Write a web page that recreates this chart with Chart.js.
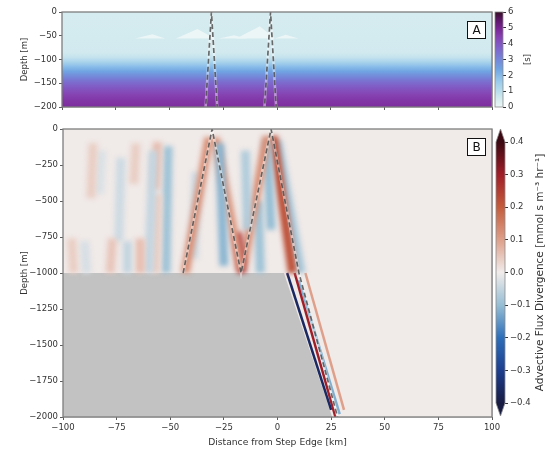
<!DOCTYPE html>
<html>
<head>
<meta charset="utf-8">
<script src="https://cdn.jsdelivr.net/npm/chart.js@4.4.1/dist/chart.umd.min.js"></script>
<style>
  html, body { margin: 0; padding: 0; background: #fff; }
  #fig { position: relative; width: 547px; height: 450px; }
  #fig canvas { position: absolute; left: 0; top: 0; }
</style>
</head>
<body>
<div id="fig">
  <canvas id="panelA" width="547" height="450"></canvas>
  <canvas id="panelB" width="547" height="450"></canvas>
  <canvas id="cbarA" width="547" height="450"></canvas>
  <canvas id="cbarB" width="547" height="450"></canvas>
</div>
<script>
// ---- panel A: layer profile (depth in m, value on the 0-6 scale) ----
const profileDepth = [0, -85, -95, -105, -115, -125, -135, -145, -155, -165, -175, -185, -200];
const profileValue = [0.5, 0.55, 0.8, 1.3, 1.9, 2.4, 2.9, 3.4, 3.8, 4.1, 4.4, 4.6, 4.8];

// pale lenses near 50 m
const lensStart = [-66, -47, -27, -19, -1];
const lensPeak = [-58, -37, -20, -8, 4];
const lensEnd = [-52, -29, -14, -1, 10];
const lensTop = [-47, -36, -49, -30, -48];
const lensBase = -56;

// ---- ray path (km, m) ----
const beamX = [-44, -30.5, -17, -3, 10, 28];
const beamDepth = [-1000, 0, -1000, 0, -1000, -2000];

// ---- step topography ----
const shelfX = [-100, 3, 25.5];
const shelfDepth = [-1000, -1000, -2000];

// ---- panel B: divergence bands (top point, bottom point, value) ----
const stripeX0 = [-96, -90, -86, -82, -77, -73, -70, -66, -64, -58, -56, -56, -51, -32, -38, -27, -29, -19, -15, -5, -9, -5, -2, 0, 4.5, 8, 10, 13];
const stripeD0 = [-760, -780, -100, -150, -760, -200, -780, -100, -760, -150, -90, -450, -120, -60, -300, -100, -60, -720, -150, -50, -500, -80, -50, -80, -1000, -1000, -1050, -1000];
const stripeX1 = [-95, -89, -87, -83, -78, -74, -70, -67, -64, -60, -57, -57, -52, -43, -39, -25, -17, -16.5, -14, -16, -8, -3, 7, 11, 25, 27, 29, 31];
const stripeD1 = [-1000, -1000, -480, -450, -1000, -780, -1000, -380, -1000, -1000, -420, -1000, -1000, -1000, -900, -950, -980, -1000, -700, -950, -1000, -700, -1000, -1000, -1950, -2000, -1980, -1950];
const stripeValue = [0.04, -0.03, 0.04, -0.025, 0.05, -0.04, -0.05, 0.04, 0.06, -0.05, 0.06, 0.04, -0.09, 0.12, -0.04, -0.11, 0.11, 0.28, -0.07, 0.12, -0.09, -0.1, 0.22, -0.08, -0.36, 0.3, -0.12, 0.1];
const backgroundValue = 0.003;

// ---- colour scales ----
const xTicks = { min: -100, max: 100, step: 25 };
const cbarATicks = { min: 0, max: 6, step: 1 };
const cbarBTicks = { min: -0.4, max: 0.4, step: 0.1 };

const denseStops = [
  [0.00, [236, 246, 246]], [0.08, [214, 236, 239]], [0.17, [185, 221, 236]],
  [0.28, [150, 200, 236]], [0.40, [112, 164, 226]], [0.52, [118, 128, 214]],
  [0.63, [128, 96, 200]], [0.74, [134, 64, 176]], [0.82, [122, 38, 150]],
  [0.92, [90, 22, 100]], [1.00, [54, 14, 36]]
];
const balanceStops = [
  [0.00, [24, 28, 67]], [0.12, [28, 60, 140]], [0.25, [45, 110, 185]],
  [0.375, [150, 190, 212]], [0.5, [241, 236, 235]], [0.625, [222, 160, 138]],
  [0.75, [196, 92, 60]], [0.875, [160, 30, 40]], [1.00, [60, 9, 18]]
];

function cmap(stops, t) {
  t = Math.max(0, Math.min(1, t));
  for (let i = 1; i < stops.length; i++) {
    if (t <= stops[i][0]) {
      const [t0, c0] = stops[i - 1];
      const [t1, c1] = stops[i];
      const f = (t - t0) / (t1 - t0);
      return 'rgb(' + c0.map((c, k) => Math.round(c + (c1[k] - c) * f)).join(',') + ')';
    }
  }
  return 'rgb(' + stops[stops.length - 1][1].join(',') + ')';
}
const colorScales = {
  dense: v => cmap(denseStops, (v - cbarATicks.min) / (cbarATicks.max - cbarATicks.min)),
  balance: v => cmap(balanceStops, (v - cbarBTicks.min) / (cbarBTicks.max - cbarBTicks.min))
};

function minus(v) {
  return String(v).replace('-', '\u2212');
}

Chart.defaults.font.family = "'DejaVu Sans', sans-serif";
Chart.defaults.font.size = 8.5;
Chart.defaults.color = '#333';
Chart.defaults.animation = false;

const gridColor = 'rgba(110,110,110,0.35)';

// fills the plot of panel A with the depth profile
const profileField = {
  id: 'profileField',
  beforeDatasetsDraw(chart) {
    const { ctx, chartArea: a, scales: { y } } = chart;
    const g = ctx.createLinearGradient(0, a.top, 0, a.bottom);
    profileDepth.forEach((d, i) => {
      const f = (y.getPixelForValue(d) - a.top) / (a.bottom - a.top);
      g.addColorStop(Math.min(1, Math.max(0, f)), colorScales.dense(profileValue[i]));
    });
    ctx.save();
    ctx.fillStyle = g;
    ctx.fillRect(a.left, a.top, a.width, a.height);
    ctx.restore();
  }
};

// flat background colour of panel B
const fieldBackground = {
  id: 'fieldBackground',
  beforeDatasetsDraw(chart) {
    const { ctx, chartArea: a } = chart;
    ctx.save();
    ctx.fillStyle = colorScales.balance(backgroundValue);
    ctx.fillRect(a.left, a.top, a.width, a.height);
    ctx.restore();
  }
};

// soft edges for field bands
const softBands = {
  id: 'softBands',
  beforeDatasetDraw(chart, args) {
    const ds = chart.data.datasets[args.index];
    if (ds.soft) chart.ctx.filter = 'blur(' + ds.soft + 'px)';
  },
  afterDatasetDraw(chart) {
    chart.ctx.filter = 'none';
  }
};

// axes frame and panel letter
const frameAndTag = {
  id: 'frameAndTag',
  afterDraw(chart, args, opts) {
    const { ctx, chartArea: a } = chart;
    ctx.save();
    ctx.strokeStyle = '#7d7d7d';
    ctx.lineWidth = 1.3;
    ctx.strokeRect(a.left, a.top, a.width, a.height);
    const w = 19, h = 18;
    const bx = a.right - 25, by = a.top + 9;
    ctx.fillStyle = '#fff';
    ctx.fillRect(bx, by, w, h);
    ctx.strokeStyle = '#111';
    ctx.lineWidth = 1;
    ctx.strokeRect(bx + 0.5, by + 0.5, w - 1, h - 1);
    ctx.fillStyle = '#111';
    ctx.font = "12px 'DejaVu Sans', sans-serif";
    ctx.textAlign = 'center';
    ctx.textBaseline = 'middle';
    ctx.fillText(opts.text, bx + w / 2, by + h / 2 + 0.5);
    ctx.restore();
  }
};

// colour bar body, extension triangles and rotated label
const colorbar = {
  id: 'colorbar',
  beforeDatasetsDraw(chart, args, opts) {
    const { ctx, chartArea: a, scales: { y } } = chart;
    const scale = colorScales[opts.scale];
    const g = ctx.createLinearGradient(0, a.bottom, 0, a.top);
    for (let i = 0; i <= 40; i++) {
      g.addColorStop(i / 40, scale(y.min + (y.max - y.min) * i / 40));
    }
    ctx.save();
    ctx.fillStyle = g;
    ctx.fillRect(a.left, a.top, a.width, a.height);
    ctx.strokeStyle = '#8a8a8a';
    ctx.lineWidth = 0.8;
    if (opts.extend) {
      const cx = (a.left + a.right) / 2;
      ctx.beginPath();
      ctx.moveTo(a.left, a.top); ctx.lineTo(cx, a.top - 13); ctx.lineTo(a.right, a.top); ctx.closePath();
      ctx.fillStyle = scale(y.max + 1);
      ctx.fill();
      ctx.beginPath();
      ctx.moveTo(a.left, a.bottom); ctx.lineTo(cx, a.bottom + 13); ctx.lineTo(a.right, a.bottom); ctx.closePath();
      ctx.fillStyle = scale(y.min - 1);
      ctx.fill();
      ctx.beginPath();
      ctx.moveTo(a.left, a.top); ctx.lineTo(cx, a.top - 13); ctx.lineTo(a.right, a.top);
      ctx.lineTo(a.right, a.bottom); ctx.lineTo(cx, a.bottom + 13); ctx.lineTo(a.left, a.bottom);
      ctx.closePath();
      ctx.stroke();
    } else {
      ctx.strokeRect(a.left, a.top, a.width, a.height);
    }
    ctx.translate(a.right + opts.titleOffset, (a.top + a.bottom) / 2);
    ctx.rotate(-Math.PI / 2);
    ctx.fillStyle = '#333';
    ctx.font = opts.titleSize + "px 'DejaVu Sans', sans-serif";
    ctx.textAlign = 'center';
    ctx.textBaseline = 'middle';
    ctx.fillText(opts.title, 0, 0);
    ctx.restore();
  }
};

function xScale(showLabels, height) {
  return {
    type: 'linear', min: xTicks.min, max: xTicks.max, z: 1,
    ticks: { stepSize: xTicks.step, display: showLabels, padding: 3, callback: minus, maxRotation: 0 },
    grid: { color: gridColor, lineWidth: 0.8, tickColor: '#333', tickLength: 3 },
    border: { display: false },
    title: { display: showLabels, text: 'Distance from Step Edge [km]', font: { size: 9.2 }, padding: { top: 0, bottom: 2 } },
    afterFit: s => { s.height = height; }
  };
}

function yScale(min, step, width) {
  return {
    type: 'linear', min: min, max: 0, z: 1,
    ticks: { stepSize: step, padding: 2, callback: minus },
    grid: { color: gridColor, lineWidth: 0.8, tickColor: '#333', tickLength: 3 },
    border: { display: false },
    title: { display: true, text: 'Depth [m]', padding: { top: 20, bottom: 0 } },
    afterFit: s => { s.width = width; }
  };
}

function pathPoints(xs, ds) {
  return xs.map((x, i) => ({ x: x, y: ds[i] }));
}

function beamDatasets() {
  const pts = pathPoints(beamX, beamDepth);
  return [
    { data: pts, showLine: true, borderColor: 'rgba(255,255,255,0.45)', borderWidth: 2.6, order: 1 },
    { data: pts, showLine: true, borderColor: 'rgba(70,70,70,0.8)', borderWidth: 1.7, borderDash: [5, 3], order: 0 }
  ];
}

const commonOptions = {
  responsive: false,
  animation: false,
  events: [],
  elements: { point: { radius: 0, hoverRadius: 0 }, line: { tension: 0 } }
};

// ---- panel A ----
const lensSets = lensStart.map((s, i) => ({
  data: [{ x: s, y: lensBase }, { x: lensPeak[i], y: lensTop[i] }, { x: lensEnd[i], y: lensBase }],
  showLine: true, fill: 'shape', backgroundColor: colorScales.dense(0),
  borderColor: 'rgba(0,0,0,0)', borderWidth: 0, soft: 0.6, order: 2
}));

new Chart(document.getElementById('panelA'), {
  type: 'scatter',
  data: { datasets: lensSets.concat(beamDatasets()) },
  options: Object.assign({}, commonOptions, {
    layout: { padding: { left: 0, top: 12, right: 55, bottom: 335 } },
    plugins: { legend: { display: false }, tooltip: { enabled: false }, frameAndTag: { text: 'A' } },
    scales: { x: xScale(false, 8), y: yScale(-200, 50, 62) }
  }),
  plugins: [profileField, softBands, frameAndTag]
});

// ---- panel B ----
const stripeSets = stripeX0.map((x0, i) => {
  const slope = stripeD1[i] < -1000;
  return {
    data: [{ x: x0, y: stripeD0[i] }, { x: stripeX1[i], y: stripeD1[i] }],
    showLine: true,
    borderColor: colorScales.balance(stripeValue[i]),
    borderWidth: slope ? 2.5 : 9,
    borderCapStyle: 'butt',
    soft: slope ? 0.7 : 2.4,
    order: 2
  };
});

const shelfSet = {
  data: pathPoints(shelfX, shelfDepth),
  showLine: true, fill: 'start', backgroundColor: '#c2c2c2',
  borderColor: 'rgba(0,0,0,0)', borderWidth: 0, order: 3
};

new Chart(document.getElementById('panelB'), {
  type: 'scatter',
  data: { datasets: [shelfSet].concat(stripeSets, beamDatasets()) },
  options: Object.assign({}, commonOptions, {
    layout: { padding: { left: 0, top: 129, right: 55, bottom: 0 } },
    plugins: { legend: { display: false }, tooltip: { enabled: false }, frameAndTag: { text: 'B' } },
    scales: { x: xScale(true, 33), y: yScale(-2000, 250, 63) }
  }),
  plugins: [fieldBackground, softBands, frameAndTag]
});

// ---- colour bars ----
function cbarOptions(ticks, padding, pluginOpts, fmt) {
  return Object.assign({}, commonOptions, {
    layout: { padding: padding },
    plugins: { legend: { display: false }, tooltip: { enabled: false }, colorbar: pluginOpts },
    scales: {
      x: { display: false, min: 0, max: 1 },
      y: {
        position: 'right', min: ticks.min, max: ticks.max,
        ticks: { stepSize: ticks.step, padding: 2, callback: fmt },
        grid: { drawOnChartArea: false, tickColor: '#333', tickLength: 3 },
        border: { display: false },
        afterFit: s => { s.width = 30; }
      }
    }
  });
}

new Chart(document.getElementById('cbarA'), {
  type: 'scatter',
  data: { datasets: [] },
  options: cbarOptions(cbarATicks, { left: 495, top: 12, right: 14, bottom: 343 },
    { scale: 'dense', extend: false, title: '[s]', titleOffset: 25, titleSize: 8.5 },
    v => minus(v)),
  plugins: [colorbar]
});

new Chart(document.getElementById('cbarB'), {
  type: 'scatter',
  data: { datasets: [] },
  options: cbarOptions(cbarBTicks, { left: 496, top: 142, right: 12, bottom: 47 },
    { scale: 'balance', extend: true, title: 'Advective Flux Divergence [mmol s m\u207B\u00B3 hr\u207B\u00B9]', titleOffset: 35, titleSize: 10.5 },
    v => minus((Math.abs(v) < 1e-9 ? 0 : v).toFixed(1))),
  plugins: [colorbar]
});
</script>
</body>
</html>
